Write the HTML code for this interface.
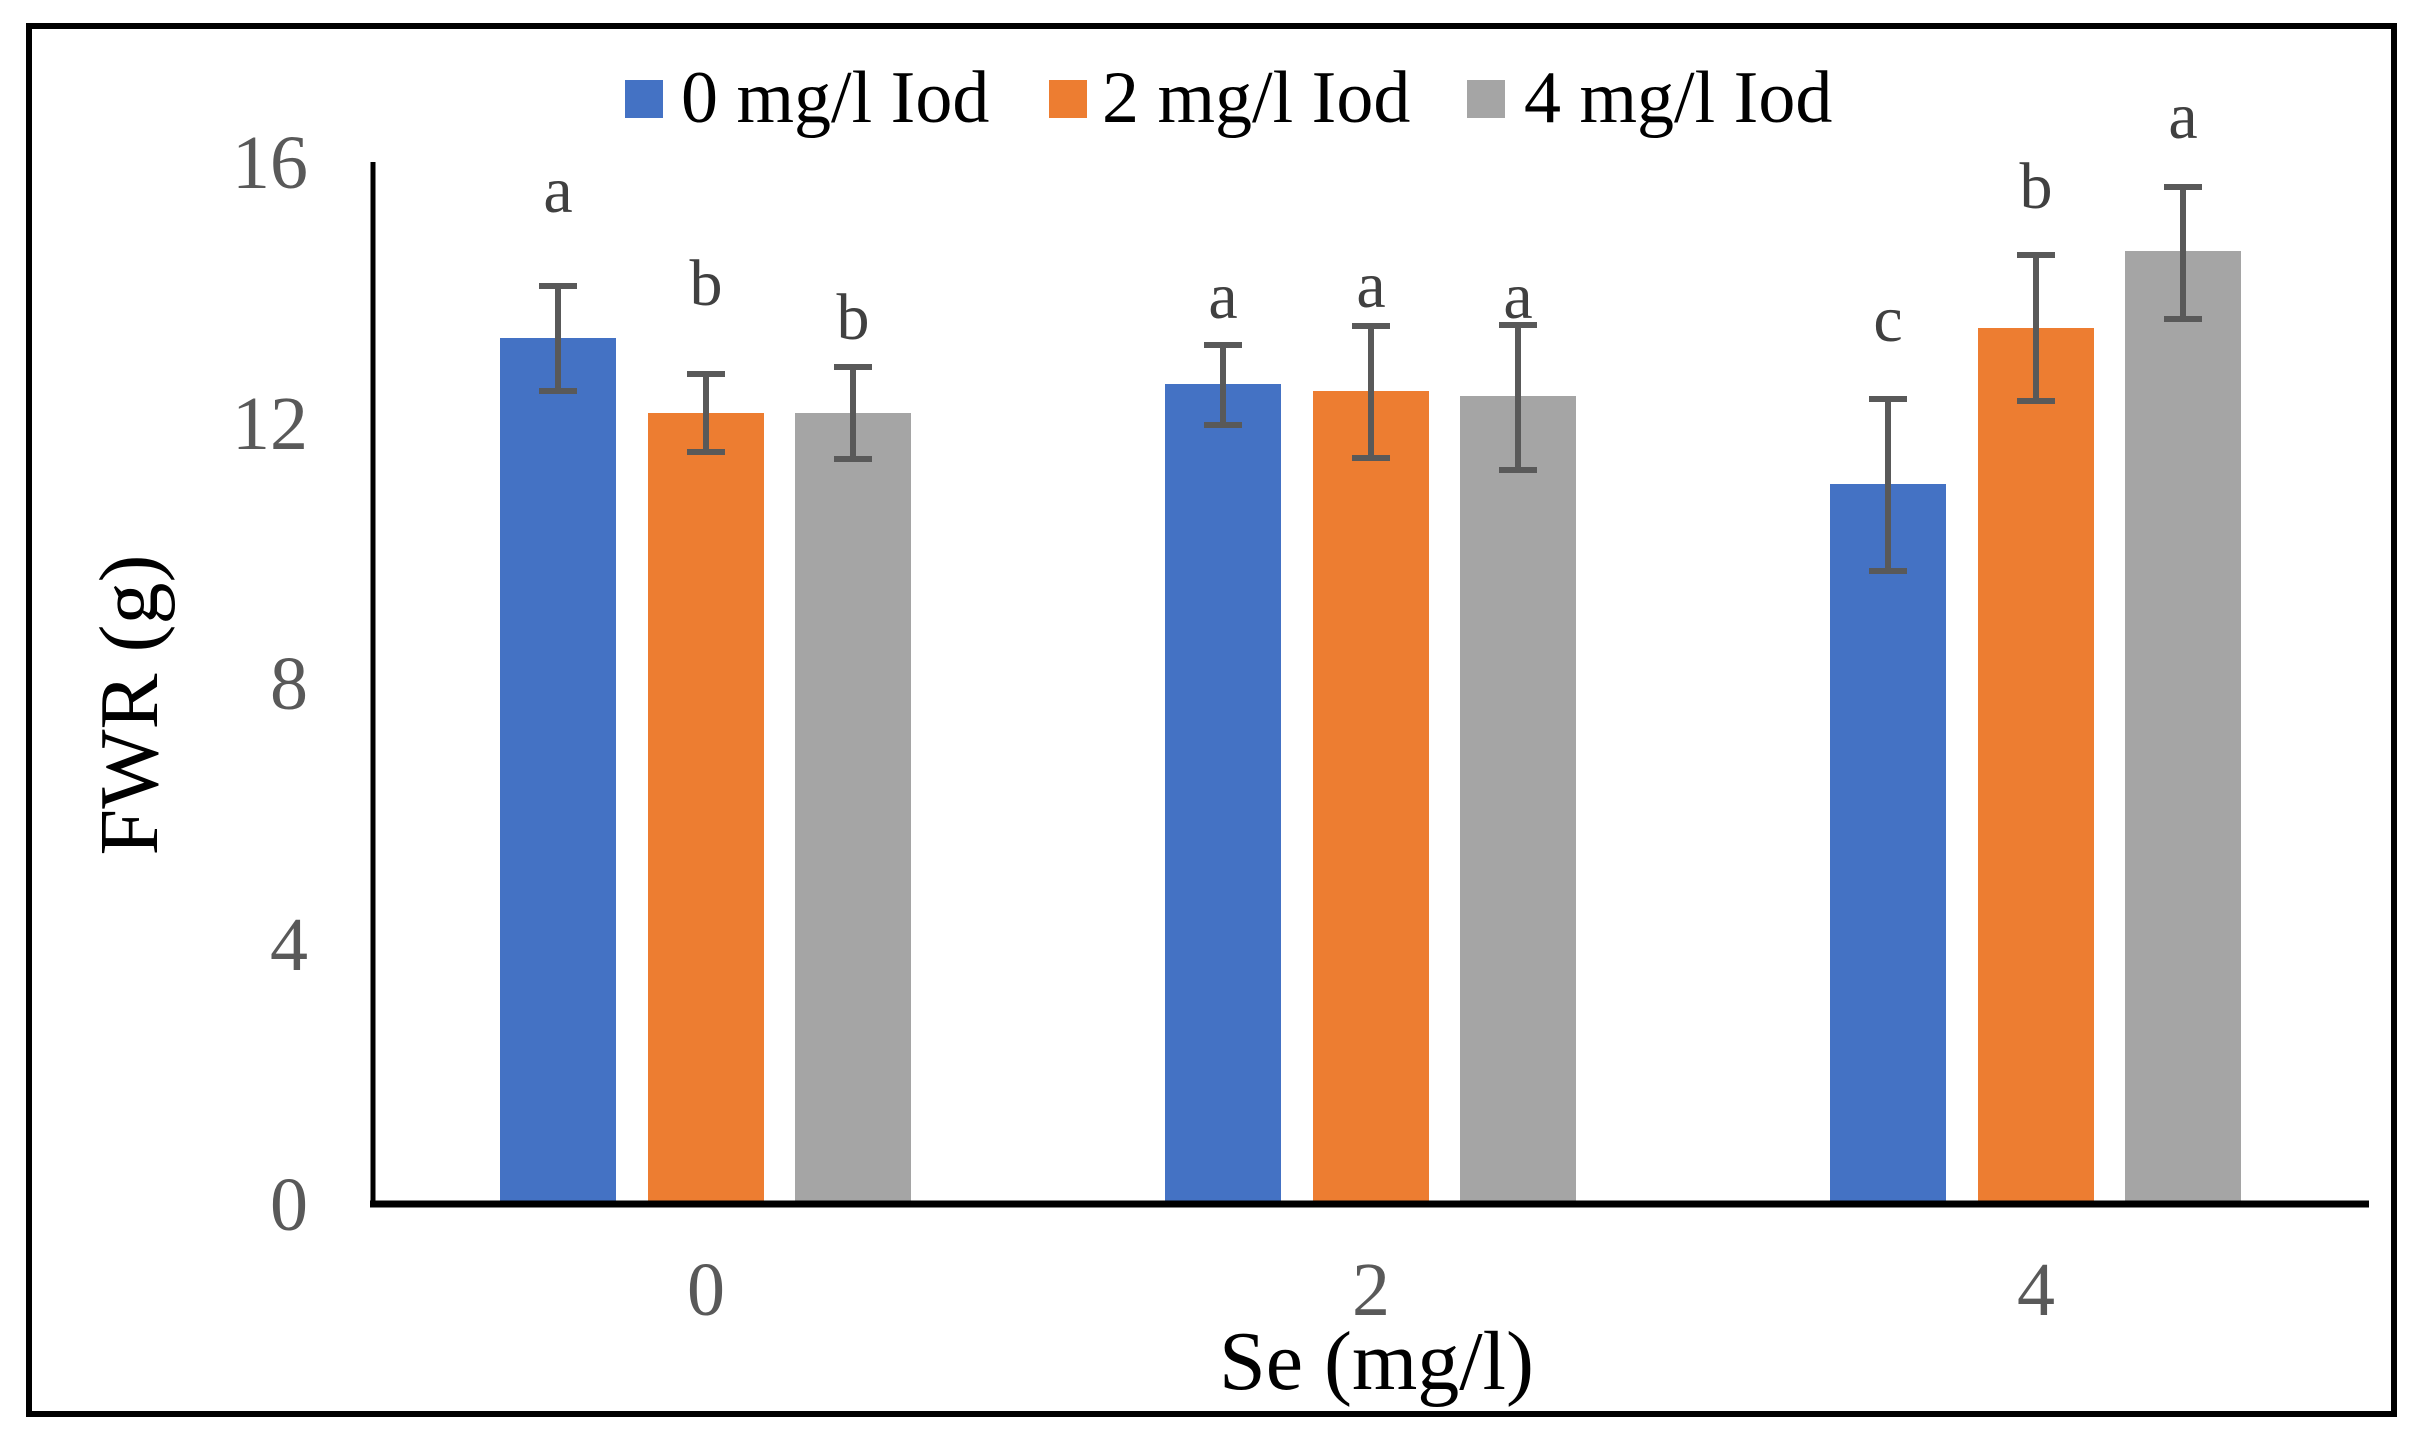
<!DOCTYPE html>
<html><head><meta charset="utf-8"><style>html,body{margin:0;padding:0;background:#fff}svg{display:block}</style></head>
<body>
<svg width="2426" height="1448" viewBox="0 0 2426 1448" xmlns="http://www.w3.org/2000/svg" style="font-family:'Liberation Serif',serif">
<rect x="0" y="0" width="2426" height="1448" fill="#fff"/>
<rect x="29" y="26" width="2365" height="1388" fill="none" stroke="#000" stroke-width="6"/>
<!-- legend -->
<rect x="625" y="80" width="38" height="38" fill="#4472C4"/>
<text x="681" y="122" font-size="74" fill="#000">0 mg/l Iod</text>
<rect x="1049" y="80" width="38" height="38" fill="#ED7D31"/>
<text x="1102" y="122" font-size="74" fill="#000">2 mg/l Iod</text>
<rect x="1467" y="80" width="38" height="38" fill="#A5A5A5"/>
<text x="1524" y="122" font-size="74" fill="#000">4 mg/l Iod</text>
<!-- y ticks -->
<g font-size="76" fill="#595959" text-anchor="end">
<text x="308" y="1230">0</text>
<text x="308" y="970">4</text>
<text x="308" y="709">8</text>
<text x="308" y="449">12</text>
<text x="308" y="188">16</text>
</g>
<text transform="translate(157,705) rotate(-90)" font-size="84" fill="#000" text-anchor="middle">FWR (g)</text>
<!-- bars -->
<g>
<rect x="500" y="338" width="116" height="866" fill="#4472C4"/>
<rect x="648" y="413" width="116" height="791" fill="#ED7D31"/>
<rect x="795" y="413" width="116" height="791" fill="#A5A5A5"/>
<rect x="1165" y="384" width="116" height="820" fill="#4472C4"/>
<rect x="1313" y="391" width="116" height="813" fill="#ED7D31"/>
<rect x="1460" y="396" width="116" height="808" fill="#A5A5A5"/>
<rect x="1830" y="484" width="116" height="720" fill="#4472C4"/>
<rect x="1978" y="328" width="116" height="876" fill="#ED7D31"/>
<rect x="2125" y="251" width="116" height="953" fill="#A5A5A5"/>
</g>
<!-- error bars -->
<g stroke="#595959" stroke-width="6" fill="none">
<path d="M558 286V391M539 286H577M539 391H577"/>
<path d="M706 374V452M687 374H725M687 452H725"/>
<path d="M853 367V459M834 367H872M834 459H872"/>
<path d="M1223 345V425M1204 345H1242M1204 425H1242"/>
<path d="M1371 326V458M1352 326H1390M1352 458H1390"/>
<path d="M1518 325V470M1499 325H1537M1499 470H1537"/>
<path d="M1888 399V571M1869 399H1907M1869 571H1907"/>
<path d="M2036 255V401M2017 255H2055M2017 401H2055"/>
<path d="M2183 187V319M2164 187H2202M2164 319H2202"/>
</g>
<!-- letters -->
<g font-size="66" fill="#404040" text-anchor="middle">
<text x="558" y="212">a</text>
<text x="706" y="305">b</text>
<text x="853" y="339">b</text>
<text x="1223" y="318">a</text>
<text x="1371" y="307">a</text>
<text x="1518" y="318">a</text>
<text x="1888" y="341">c</text>
<text x="2036" y="208">b</text>
<text x="2183" y="138">a</text>
</g>
<!-- axes -->
<line x1="373" y1="162" x2="373" y2="1207" stroke="#000" stroke-width="5"/>
<line x1="370" y1="1204" x2="2369" y2="1204" stroke="#000" stroke-width="7"/>
<g font-size="76" fill="#595959" text-anchor="middle">
<text x="706" y="1315">0</text>
<text x="1371" y="1315">2</text>
<text x="2036" y="1315">4</text>
</g>
<text x="1219" y="1389" font-size="84" fill="#000">Se (mg/l)</text>
</svg>
</body></html>
